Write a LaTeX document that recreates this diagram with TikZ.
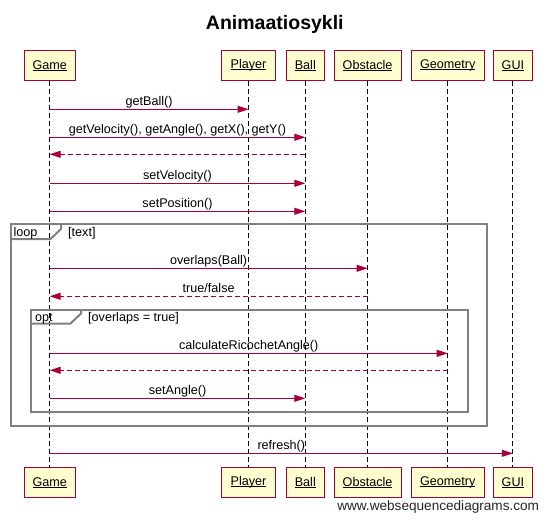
\documentclass[tikz,border=0pt]{standalone}
\usepackage{fontspec}
\setmainfont{Liberation Sans}
\usetikzlibrary{arrows.meta}
\definecolor{crim}{HTML}{A80036}
\definecolor{boxfill}{HTML}{FEFECE}
\definecolor{framegray}{HTML}{808080}
\newcommand\uln[1]{\setbox0\hbox{#1}\rlap{\rule[-1.4pt]{\wd0}{0.8pt}}\box0}
\begin{document}
\begin{tikzpicture}[x=1pt,y=-1pt,
  every node/.style={inner sep=0pt, font=\fontsize{12.6}{14}\selectfont},
  part/.style={draw=crim, fill=boxfill, line width=1.1pt, minimum height=30pt},
  lifeline/.style={draw=black, line width=1pt, dash pattern=on 5pt off 3pt},
  msg/.style={draw=crim, line width=1pt, -{Triangle[length=11pt,width=7pt]}},
  ret/.style={msg, dash pattern=on 5pt off 3pt},
  lbl/.style={midway, anchor=base, yshift=3.7pt},
  frame/.style={draw=framegray, line width=2pt},
  flbl/.style={anchor=base west}]
\useasboundingbox (0,0) rectangle (548,521);
\fill[white] (0,0) rectangle (548,521);

\node[font=\bfseries\fontsize{19.5}{22}\selectfont, anchor=base] (title) at (274.8,29.3) {Animaatiosykli};

% participants top
\node[part, minimum width=50.8pt] (gameT) at (49.7,65.5) {\uln{Game}};
\node[part, minimum width=54.4pt] (playerT) at (248.5,65.5) {\uln{Player}};
\node[part, minimum width=38pt] (ballT) at (305.3,65.5) {\uln{Ball}};
\node[part, minimum width=67pt] (obstacleT) at (367.6,65.5) {\uln{Obstacle}};
\node[part, minimum width=73pt] (geometryT) at (447.7,65.5) {\uln{Geometry}};
\node[part, minimum width=38.3pt] (guiT) at (512.9,65.5) {\uln{GUI}};
% participants bottom
\node[part, minimum width=50.8pt] (gameB) at (49.7,482.3) {\uln{Game}};
\node[part, minimum width=54.4pt] (playerB) at (248.5,482.3) {\uln{Player}};
\node[part, minimum width=38pt] (ballB) at (305.3,482.3) {\uln{Ball}};
\node[part, minimum width=67pt] (obstacleB) at (367.6,482.3) {\uln{Obstacle}};
\node[part, minimum width=73pt] (geometryB) at (447.7,482.3) {\uln{Geometry}};
\node[part, minimum width=38.3pt] (guiB) at (512.9,482.3) {\uln{GUI}};

% lifelines
\draw[lifeline] (gameT.south) -- (gameB.north);
\draw[lifeline] (playerT.south) -- (playerB.north);
\draw[lifeline] (ballT.south) -- (ballB.north);
\draw[lifeline] (obstacleT.south) -- (obstacleB.north);
\draw[lifeline] (geometryT.south) -- (geometryB.north);
\draw[lifeline] (guiT.south) -- (guiB.north);

% frames
\draw[frame] (10.5,224.5) rectangle (486.5,425.5);
\draw[frame] (10.5,239) -- (50.5,239) -- (61,229) -- (61,224.5);
\node[flbl] (loopl) at (13.3,236.5) {loop};
\node[flbl] (loopc) at (68,236.5) {[text]};
\draw[frame] (30.5,309.5) rectangle (467.7,411.7);
\draw[frame] (30.5,323.5) -- (70.5,323.5) -- (81,313.5) -- (81,309.5);
\node[flbl] (optl) at (35,321) {opt};
\node[flbl] (optc) at (88,321) {[overlaps = true]};

% messages
\draw[msg] (gameT |- 0,109.3) -- (playerT |- 0,109.3) node[lbl] {getBall()};
\draw[msg] (gameT |- 0,137.3) -- (ballT |- 0,137.3) node[lbl] {getVelocity(), getAngle(), getX(), getY()};
\draw[ret] (ballT |- 0,154.3) -- (gameT |- 0,154.3);
\draw[msg] (gameT |- 0,183.3) -- (ballT |- 0,183.3) node[lbl] {setVelocity()};
\draw[msg] (gameT |- 0,211.3) -- (ballT |- 0,211.3) node[lbl] {setPosition()};
\draw[msg] (gameT |- 0,268.3) -- (obstacleT |- 0,268.3) node[lbl] {overlaps(Ball)};
\draw[ret] (obstacleT |- 0,296.3) -- (gameT |- 0,296.3) node[lbl] {true/false};
\draw[msg] (gameT |- 0,353.3) -- (geometryT |- 0,353.3) node[lbl] {calculateRicochetAngle()};
\draw[ret] (geometryT |- 0,370.3) -- (gameT |- 0,370.3);
\draw[msg] (gameT |- 0,398.3) -- (ballT |- 0,398.3) node[lbl] {setAngle()};
\draw[msg] (gameT |- 0,453.3) -- (guiT |- 0,453.3) node[lbl] {refresh()};

\node[anchor=base east, font=\fontsize{13.6}{15}\selectfont, text=black!85] (wm) at (539.3,510.7) {www.websequencediagrams.com};
\end{tikzpicture}
\end{document}
